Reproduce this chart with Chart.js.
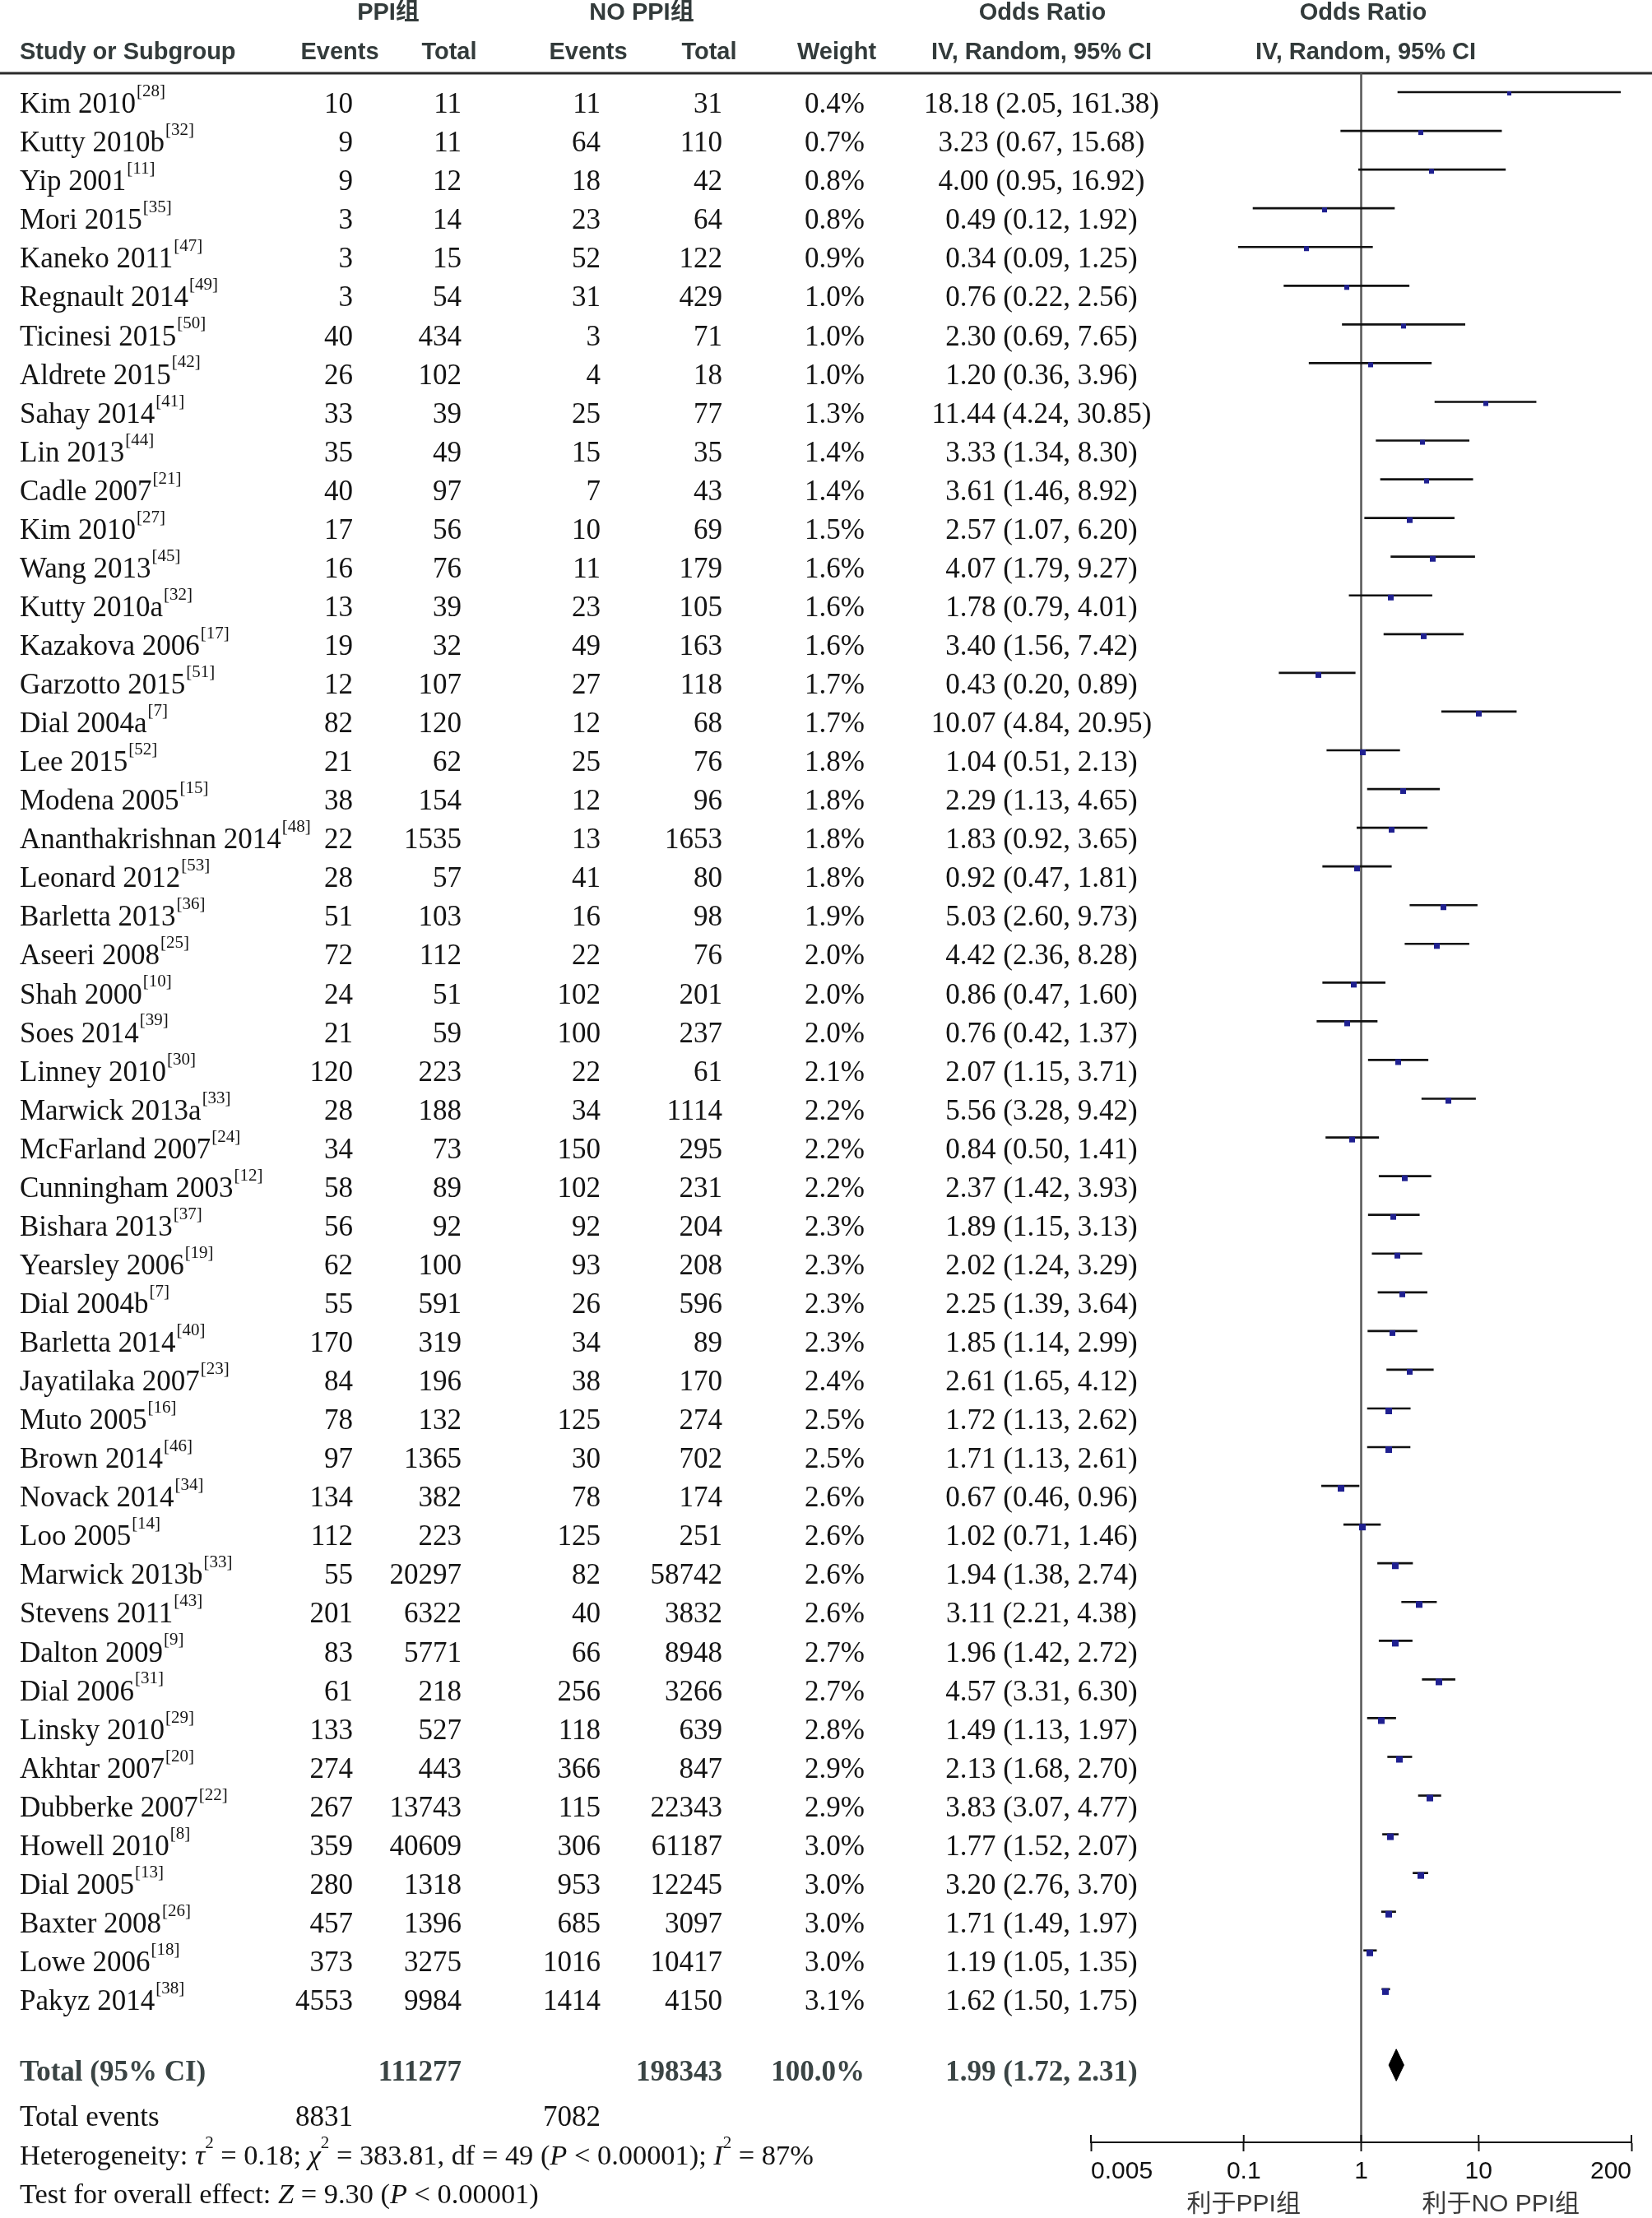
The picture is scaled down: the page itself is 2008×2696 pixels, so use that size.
<!DOCTYPE html>
<html><head><meta charset="utf-8">
<script src="https://cdn.jsdelivr.net/npm/chart.js@4.4.1/dist/chart.umd.min.js"></script>
<style>html,body{margin:0;padding:0;background:#fff;overflow:hidden}#wrap{width:2008px;height:2696px;position:relative}</style>
</head><body><div id="wrap"><canvas id="c"></canvas></div>
<script>
// ---- data ----
const studies = ["Kim 2010","Kutty 2010b","Yip 2001","Mori 2015","Kaneko 2011","Regnault 2014","Ticinesi 2015","Aldrete 2015","Sahay 2014","Lin 2013","Cadle 2007","Kim 2010","Wang 2013","Kutty 2010a","Kazakova 2006","Garzotto 2015","Dial 2004a","Lee 2015","Modena 2005","Ananthakrishnan 2014","Leonard 2012","Barletta 2013","Aseeri 2008","Shah 2000","Soes 2014","Linney 2010","Marwick 2013a","McFarland 2007","Cunningham 2003","Bishara 2013","Yearsley 2006","Dial 2004b","Barletta 2014","Jayatilaka 2007","Muto 2005","Brown 2014","Novack 2014","Loo 2005","Marwick 2013b","Stevens 2011","Dalton 2009","Dial 2006","Linsky 2010","Akhtar 2007","Dubberke 2007","Howell 2010","Dial 2005","Baxter 2008","Lowe 2006","Pakyz 2014"];
const refs = [28,32,11,35,47,49,50,42,41,44,21,27,45,32,17,51,7,52,15,48,53,36,25,10,39,30,33,24,12,37,19,7,40,23,16,46,34,14,33,43,9,31,29,20,22,8,13,26,18,38];
const ppiEvents = [10,9,9,3,3,3,40,26,33,35,40,17,16,13,19,12,82,21,38,22,28,51,72,24,21,120,28,34,58,56,62,55,170,84,78,97,134,112,55,201,83,61,133,274,267,359,280,457,373,4553];
const ppiTotal = [11,11,12,14,15,54,434,102,39,49,97,56,76,39,32,107,120,62,154,1535,57,103,112,51,59,223,188,73,89,92,100,591,319,196,132,1365,382,223,20297,6322,5771,218,527,443,13743,40609,1318,1396,3275,9984];
const noEvents = [11,64,18,23,52,31,3,4,25,15,7,10,11,23,49,27,12,25,12,13,41,16,22,102,100,22,34,150,102,92,93,26,34,38,125,30,78,125,82,40,66,256,118,366,115,306,953,685,1016,1414];
const noTotal = [31,110,42,64,122,429,71,18,77,35,43,69,179,105,163,118,68,76,96,1653,80,98,76,201,237,61,1114,295,231,204,208,596,89,170,274,702,174,251,58742,3832,8948,3266,639,847,22343,61187,12245,3097,10417,4150];
const weights = [0.4,0.7,0.8,0.8,0.9,1.0,1.0,1.0,1.3,1.4,1.4,1.5,1.6,1.6,1.6,1.7,1.7,1.8,1.8,1.8,1.8,1.9,2.0,2.0,2.0,2.1,2.2,2.2,2.2,2.3,2.3,2.3,2.3,2.4,2.5,2.5,2.6,2.6,2.6,2.6,2.7,2.7,2.8,2.9,2.9,3.0,3.0,3.0,3.0,3.1];
const oddsRatio = [18.18,3.23,4.00,0.49,0.34,0.76,2.30,1.20,11.44,3.33,3.61,2.57,4.07,1.78,3.40,0.43,10.07,1.04,2.29,1.83,0.92,5.03,4.42,0.86,0.76,2.07,5.56,0.84,2.37,1.89,2.02,2.25,1.85,2.61,1.72,1.71,0.67,1.02,1.94,3.11,1.96,4.57,1.49,2.13,3.83,1.77,3.20,1.71,1.19,1.62];
const ciLow = [2.05,0.67,0.95,0.12,0.09,0.22,0.69,0.36,4.24,1.34,1.46,1.07,1.79,0.79,1.56,0.20,4.84,0.51,1.13,0.92,0.47,2.60,2.36,0.47,0.42,1.15,3.28,0.50,1.42,1.15,1.24,1.39,1.14,1.65,1.13,1.13,0.46,0.71,1.38,2.21,1.42,3.31,1.13,1.68,3.07,1.52,2.76,1.49,1.05,1.50];
const ciHigh = [161.38,15.68,16.92,1.92,1.25,2.56,7.65,3.96,30.85,8.30,8.92,6.20,9.27,4.01,7.42,0.89,20.95,2.13,4.65,3.65,1.81,9.73,8.28,1.60,1.37,3.71,9.42,1.41,3.93,3.13,3.29,3.64,2.99,4.12,2.62,2.61,0.96,1.46,2.74,4.38,2.72,6.30,1.97,2.70,4.77,2.07,3.70,1.97,1.35,1.75];

const totalPpi = 111277, totalNo = 198343, totalWeight = 100.0;
const totalOR = 1.99, totalLow = 1.72, totalHigh = 2.31;
const totalEventsPpi = 8831, totalEventsNo = 7082;
const tau2 = "0.18", chi2 = "383.81", dfHet = 49, pHet = "0.00001", i2 = 87;
const zOverall = "9.30", pOverall = "0.00001";

const xTicks = [0.005, 0.1, 1, 10, 200];
const xTickLabels = ["0.005", "0.1", "1", "10", "200"];
const favourLeft = "利于PPI组", favourRight = "利于NO PPI组";
const groupLabels = ["PPI组", "NO PPI组"];

// ---- layout/style ----
const totalRow = 50.96, eventsRow = 52, hetRow = 53, testRow = 54;
const diamondHalf = 0.41;
const TXT = 16;
const serif = '"Liberation Serif", "Times New Roman", serif';
const sans = '"Liberation Sans", Arial, "Noto Sans CJK SC", sans-serif';
const cols = {ppiE: 429, ppiT: 561, noE: 730, noT: 878, w: 1051, or: 1266};

function markerImg(w) {
  const s = Math.round(5 + w);
  const c = document.createElement('canvas');
  c.width = s; c.height = 2 * s + 2;
  const g = c.getContext('2d');
  g.fillStyle = '#1f2090';
  g.fillRect(0, s, s, s);
  return c;
}
const markerStyles = weights.map(markerImg);

function drawRich(ctx, segs, x0, yc, size, color) {
  let x = x0;
  ctx.textBaseline = 'middle'; ctx.textAlign = 'left'; ctx.fillStyle = color;
  for (const s of segs) {
    const sz = s.sup ? Math.round(size * 0.6) : size;
    ctx.font = (s.italic ? 'italic ' : '') + (s.bold ? 'bold ' : '') + sz + 'px ' + serif;
    ctx.fillText(s.t, x, s.sup ? yc - size * 0.47 : yc);
    x += ctx.measureText(s.t).width + (s.gap || 0);
  }
}
function txt(ctx, t, x, y, align, font, color) {
  ctx.font = font; ctx.textAlign = align; ctx.textBaseline = 'middle'; ctx.fillStyle = color;
  ctx.fillText(t, x, y);
}
const f2 = v => v.toFixed(2);

const framePlugin = {
  id: 'frame',
  beforeDatasetsDraw(chart) {
    const ctx = chart.ctx, xs = chart.scales.x, a = chart.chartArea;
    ctx.save();
    ctx.strokeStyle = '#2a2a2a'; ctx.lineWidth = 3;
    ctx.beginPath(); ctx.moveTo(0, a.top); ctx.lineTo(chart.width, a.top); ctx.stroke();
    const x1 = xs.getPixelForValue(1);
    ctx.strokeStyle = '#555'; ctx.lineWidth = 2.5;
    ctx.beginPath(); ctx.moveTo(x1, a.top); ctx.lineTo(x1, a.bottom); ctx.stroke();
    ctx.strokeStyle = '#111'; ctx.lineWidth = 2;
    for (const v of xTicks) {
      const px = xs.getPixelForValue(v);
      ctx.beginPath(); ctx.moveTo(px, a.bottom - 9); ctx.lineTo(px, a.bottom); ctx.stroke();
    }
    ctx.restore();
  },
  afterDraw(chart) {
    const ctx = chart.ctx, ys = chart.scales.y, xs = chart.scales.x;
    ctx.save();
    const hdr = 'bold 29px ' + sans, hc = '#333b3b';
    txt(ctx, groupLabels[0], 472, 16, 'center', hdr, hc);
    txt(ctx, groupLabels[1], 780, 16, 'center', hdr, hc);
    txt(ctx, 'Odds Ratio', 1267, 16, 'center', hdr, hc);
    txt(ctx, 'Odds Ratio', 1657, 16, 'center', hdr, hc);
    txt(ctx, 'Study or Subgroup', 24, 64, 'left', hdr, hc);
    txt(ctx, 'Events', 413, 64, 'center', hdr, hc);
    txt(ctx, 'Total', 546, 64, 'center', hdr, hc);
    txt(ctx, 'Events', 715, 64, 'center', hdr, hc);
    txt(ctx, 'Total', 862, 64, 'center', hdr, hc);
    txt(ctx, 'Weight', 1017, 64, 'center', hdr, hc);
    txt(ctx, 'IV, Random, 95% CI', 1266, 64, 'center', hdr, hc);
    txt(ctx, 'IV, Random, 95% CI', 1660, 64, 'center', hdr, hc);

    const body = '35px ' + serif, bc = '#141414';
    studies.forEach((s, i) => {
      const y = ys.getPixelForValue(i) + TXT;
      drawRich(ctx, [{t: s, gap: 1}, {t: '[' + refs[i] + ']', sup: true}], 24, y, 35, bc);
      txt(ctx, String(ppiEvents[i]), cols.ppiE, y, 'right', body, bc);
      txt(ctx, String(ppiTotal[i]), cols.ppiT, y, 'right', body, bc);
      txt(ctx, String(noEvents[i]), cols.noE, y, 'right', body, bc);
      txt(ctx, String(noTotal[i]), cols.noT, y, 'right', body, bc);
      txt(ctx, weights[i].toFixed(1) + '%', cols.w, y, 'right', body, bc);
      txt(ctx, f2(oddsRatio[i]) + ' (' + f2(ciLow[i]) + ', ' + f2(ciHigh[i]) + ')', cols.or, y, 'center', body, bc);
    });
    const tb = 'bold 35px ' + serif, tc = '#3a4444';
    const ty = ys.getPixelForValue(totalRow) + 10;
    txt(ctx, 'Total (95% CI)', 24, ty, 'left', tb, tc);
    txt(ctx, String(totalPpi), cols.ppiT, ty, 'right', tb, tc);
    txt(ctx, String(totalNo), cols.noT, ty, 'right', tb, tc);
    txt(ctx, totalWeight.toFixed(1) + '%', cols.w, ty, 'right', tb, tc);
    txt(ctx, f2(totalOR) + ' (' + f2(totalLow) + ', ' + f2(totalHigh) + ')', cols.or, ty, 'center', tb, tc);
    const ey = ys.getPixelForValue(eventsRow) + TXT;
    txt(ctx, 'Total events', 24, ey, 'left', body, bc);
    txt(ctx, String(totalEventsPpi), cols.ppiE, ey, 'right', body, bc);
    txt(ctx, String(totalEventsNo), cols.noE, ey, 'right', body, bc);
    drawRich(ctx, [
      {t: 'Heterogeneity: '}, {t: 'τ', italic: true}, {t: '2', sup: true}, {t: ' = ' + tau2 + '; '},
      {t: 'χ', italic: true}, {t: '2', sup: true}, {t: ' = ' + chi2 + ', df = ' + dfHet + ' ('},
      {t: 'P', italic: true}, {t: ' < ' + pHet + '); '}, {t: 'I', italic: true}, {t: '2', sup: true},
      {t: ' = ' + i2 + '%'}], 24, ys.getPixelForValue(hetRow) + TXT, 34.4, bc);
    drawRich(ctx, [
      {t: 'Test for overall effect: '}, {t: 'Z', italic: true}, {t: ' = ' + zOverall + ' ('},
      {t: 'P', italic: true}, {t: ' < ' + pOverall + ')'}], 24, ys.getPixelForValue(testRow) + TXT, 34.4, bc);
    const fl = '30px ' + sans, fc = '#3a3a3a';
    txt(ctx, favourLeft, xs.getPixelForValue(0.1), 2680, 'center', fl, fc);
    txt(ctx, favourRight, xs.getPixelForValue(10) + 27, 2680, 'center', fl, fc);
    ctx.restore();
  }
};

const diamond = [
  {x: totalLow, y: totalRow}, {x: totalOR, y: totalRow - diamondHalf},
  {x: totalHigh, y: totalRow}, {x: totalOR, y: totalRow + diamondHalf}, {x: totalLow, y: totalRow}
];

new Chart(document.getElementById('c'), {
  type: 'bar',
  data: {
    datasets: [
      {type: 'line', label: 'Total', data: diamond, fill: 'shape', backgroundColor: '#000', borderColor: '#000',
       borderWidth: 1, pointRadius: 0, tension: 0, order: 0},
      {type: 'scatter', label: 'OR', data: studies.map((s, i) => ({x: oddsRatio[i], y: i})),
       pointStyle: markerStyles, pointRadius: 4, order: 1},
      {type: 'bar', label: 'CI', data: studies.map((s, i) => ({x: [ciLow[i], ciHigh[i]], y: i})),
       backgroundColor: '#111', borderWidth: 0, barThickness: 2, order: 2}
    ]
  },
  options: {
    indexAxis: 'y', responsive: true, maintainAspectRatio: false, animation: false, devicePixelRatio: 1,
    events: [],
    layout: {padding: {left: 1326, right: 25, top: 89, bottom: 31}},
    plugins: {legend: {display: false}, tooltip: {enabled: false}},
    scales: {
      x: {type: 'logarithmic', min: 0.005, max: 200, position: 'bottom', offset: false,
          afterBuildTicks: s => { s.ticks = xTicks.map(v => ({value: v})); },
          ticks: {autoSkip: false, maxRotation: 0, minRotation: 0, align: 'inner', padding: 7, color: '#111',
                  font: {family: 'Liberation Sans', size: 30}, callback: (v, i) => xTickLabels[i]},
          grid: {display: true, drawOnChartArea: false, drawTicks: true, tickLength: 11, tickWidth: 2, color: '#111', tickColor: '#111', offset: false},
          border: {display: true, color: '#111', width: 2}},
      y: {type: 'linear', reverse: true, min: -0.489, max: 52.956, display: false, offset: false, grid: {offset: false}}
    }
  },
  plugins: [framePlugin]
});
</script></body></html>
